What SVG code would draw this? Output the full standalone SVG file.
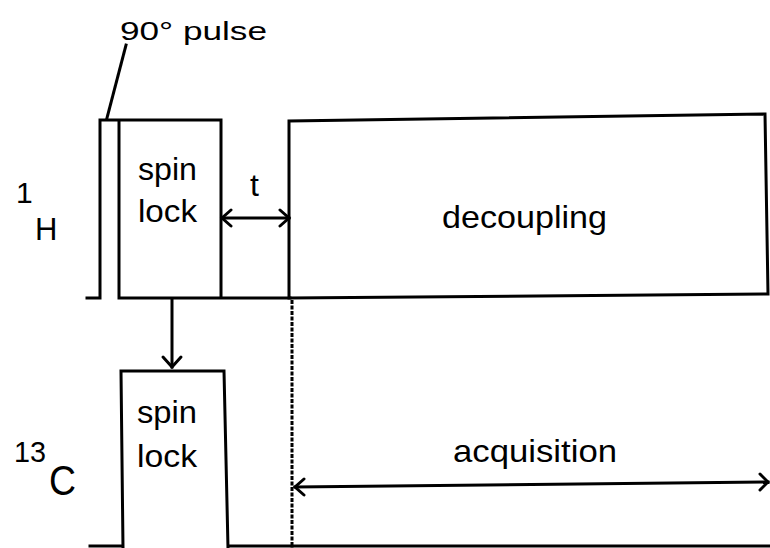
<svg xmlns="http://www.w3.org/2000/svg" width="770" height="548" viewBox="0 0 770 548">
<style>
.ln{fill:none;stroke:#000;stroke-width:3;stroke-linejoin:miter;stroke-linecap:square}
.ah{fill:none;stroke:#000;stroke-width:3;stroke-linecap:round;stroke-linejoin:miter}
.dash{fill:none;stroke:#000;stroke-width:3;stroke-dasharray:4 1.5}
text{font-family:"Liberation Sans",Arial,sans-serif;fill:#000}
.lab{font-size:32px}
</style>
<rect width="770" height="548" fill="#fff"/>
<g id="h-channel">
<path class="ln" d="M87,298 H100 V120 H221 V298 M119,120 V298 H290"/>
</g>
<g id="pulse90">
<text x="120" y="40" font-size="26" textLength="147" lengthAdjust="spacingAndGlyphs">90° pulse</text>
<path class="ln" d="M126,45 L107,118" stroke-width="2.5"/>
</g>
<g id="h-spinlock">
<text class="lab" x="138" y="180" textLength="59" lengthAdjust="spacingAndGlyphs">spin</text>
<text class="lab" x="138" y="222" textLength="59" lengthAdjust="spacingAndGlyphs">lock</text>
</g>
<g id="decoupling">
<path class="ln" d="M289,298 V121 L765,114 L768,294 Z"/>
<text class="lab" x="442" y="228" textLength="165" lengthAdjust="spacingAndGlyphs">decoupling</text>
</g>
<g id="h-label">
<text x="16" y="203" font-size="30">1</text>
<text x="35" y="240" font-size="31">H</text>
</g>
<g id="c-label">
<text x="14" y="462" font-size="30" textLength="32" lengthAdjust="spacingAndGlyphs">13</text>
<text x="49" y="495" font-size="43" textLength="27" lengthAdjust="spacingAndGlyphs">C</text>
</g>
<g id="c-spinlock">
<path class="ln" d="M123,548 L121,371 H224 L228,548"/>
<text class="lab" x="137" y="423" textLength="60" lengthAdjust="spacingAndGlyphs">spin</text>
<text class="lab" x="137" y="467" textLength="60" lengthAdjust="spacingAndGlyphs">lock</text>
</g>
<g id="c-baseline">
<path class="ln" d="M90,546 H122 M230,546 H770" stroke-width="2"/>
</g>
<g id="acquisition">
<text class="lab" x="453" y="462" textLength="164" lengthAdjust="spacingAndGlyphs">acquisition</text>
</g>
<g id="delay-t">
<text class="lab" x="250" y="196">t</text>
</g>
<g id="connectors">
<path class="ln" d="M222,218 H289"/>
<path class="ah" d="M231,210 L222,218 L231,226 M280,210 L289,218 L280,226"/>
<path class="ln" d="M172,300 V367"/>
<path class="ah" d="M163,357 L172,367 L181,357"/>
<path class="dash" d="M292,300 V548"/>
<path class="ln" d="M295,487 L768,482"/>
<path class="ah" d="M304,479 L295,487 L304,495 M760,474 L768,482 L760,490"/>
</g>
</svg>
